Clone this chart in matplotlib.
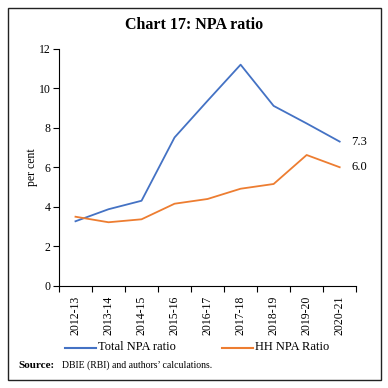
import matplotlib
matplotlib.use('Agg')
import matplotlib.pyplot as plt
from matplotlib.patches import Rectangle
from matplotlib.lines import Line2D

years = ['2012-13', '2013-14', '2014-15', '2015-16', '2016-17',
         '2017-18', '2018-19', '2019-20', '2020-21']
total_npa = [3.26, 3.87, 4.30, 7.51, 9.37, 11.2, 9.11, 8.22, 7.3]
hh_npa = [3.49, 3.21, 3.36, 4.15, 4.39, 4.91, 5.15, 6.62, 6.0]
yticks = [0, 2, 4, 6, 8, 10, 12]

plt.rcParams['font.family'] = ['Liberation Serif', 'DejaVu Serif']

blue = '#4472C4'
orange = '#ED7D31'

fig = plt.figure(figsize=(3.88, 3.88), dpi=100)
ax = fig.add_axes([0.152, 0.264, 0.766, 0.610])

x = list(range(len(years)))
ax.plot(x, total_npa, color=blue, lw=1.3)
ax.plot(x, hh_npa, color=orange, lw=1.3)

ax.set_xlim(-0.5, len(years) - 0.5)
ax.set_ylim(0, 12)
ax.set_yticks(yticks)
ax.tick_params(axis='y', labelsize=8.5, length=4, width=0.8, pad=2)
ax.set_xticks([i - 0.5 for i in range(len(years) + 1)])
ax.set_xticklabels([])
ax.tick_params(axis='x', length=4, width=0.8, direction='out')
for i, lab in enumerate(years):
    ax.text(i, -0.5, lab, rotation=90, ha='center', va='top', fontsize=8.5,
            transform=ax.transData)
for s in ['top', 'right']:
    ax.spines[s].set_visible(False)
ax.spines['left'].set_linewidth(0.8)
ax.spines['bottom'].set_linewidth(0.8)
ax.set_ylabel('per cent', fontsize=8.5)
ax.yaxis.set_label_coords(-0.07, 0.5)

ax.text(len(years) - 1 + 0.35, total_npa[-1], f'{total_npa[-1]:.1f}',
        va='center', ha='left', fontsize=9)
ax.text(len(years) - 1 + 0.35, hh_npa[-1], f'{hh_npa[-1]:.1f}',
        va='center', ha='left', fontsize=9)

fig.text(0.5, 0.935, 'Chart 17: NPA ratio', ha='center', va='center',
         fontsize=11.5, fontweight='bold')

# legend
ly = 1 - 347.5 / 388
fig.add_artist(Line2D([65 / 388, 96 / 388], [ly, ly], color=blue, lw=1.5))
fig.text(98 / 388, ly, 'Total NPA ratio', va='center', ha='left', fontsize=9)
fig.add_artist(Line2D([222 / 388, 253 / 388], [ly, ly], color=orange, lw=1.5))
fig.text(255 / 388, ly, 'HH NPA Ratio', va='center', ha='left', fontsize=9)

sy = 1 - 365 / 388
fig.text(18 / 388, sy, 'Source:', va='center', ha='left', fontsize=8,
         fontweight='bold')
fig.text(62 / 388, sy, 'DBIE (RBI) and authors\u2019 calculations.', va='center',
         ha='left', fontsize=7)

fig.add_artist(Rectangle((7.5 / 388, 1 - 380 / 388), 373.5 / 388, 372.5 / 388,
                         transform=fig.transFigure, fill=False, lw=1.0,
                         edgecolor='#222222'))

fig.savefig('out.png', dpi=100)
